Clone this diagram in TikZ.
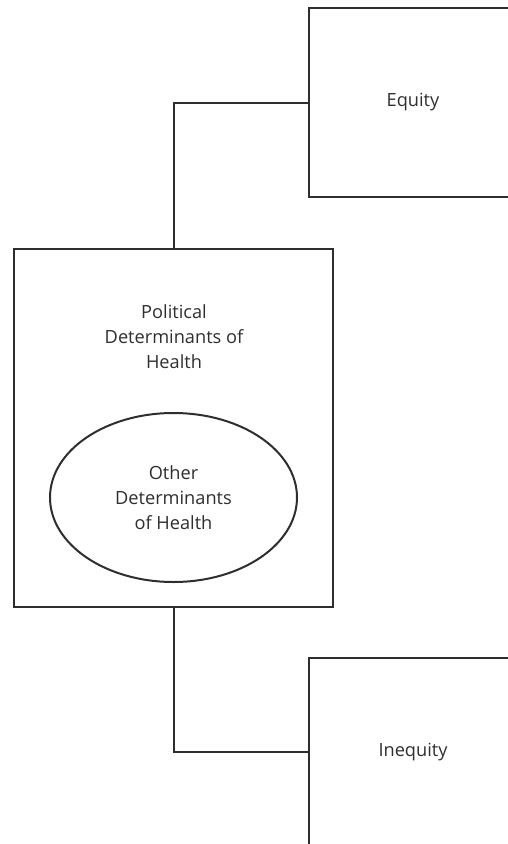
\documentclass[tikz,border=0pt]{standalone}
\usepackage{fontspec}
\setmainfont{Open Sans}
\usetikzlibrary{shapes.geometric}
\definecolor{ink}{HTML}{2E2E2E}
\tikzset{
  box/.style={draw=ink, line width=2pt, rectangle, inner sep=0pt},
  oval/.style={draw=ink, line width=2pt, ellipse, inner sep=0pt,
    minimum width=247pt, minimum height=169pt},
  label/.style={text=ink, font=\fontsize{18.2}{25}\selectfont, align=center},
  link/.style={draw=ink, line width=2pt},
}
\begin{document}
\begin{tikzpicture}[x=1pt, y=-1pt]
  \useasboundingbox (0,0) rectangle (508,844);
  \clip (0,0) rectangle (508,844);
  % outcome boxes on the right
  \node[box, minimum width=208pt, minimum height=189pt] (eq) at (413,102.5) {};
  \node[label] at (eq.center) {Equity};
  \node[box, minimum width=208pt, minimum height=189pt] (ineq) at (413,752) {};
  \node[label] at (ineq.center) {Inequity};
  % determinants
  \node[box, minimum width=319pt, minimum height=358pt] (pol) at (173.5,428) {};
  \node[label] (poltext) at (174,337) {Political\\Determinants of\\Health};
  \node[oval] (oth) at (173.5,497.5) {};
  \node[label] at (oth.center) {Other\\Determinants\\of Health};
  % connectors
  \draw[link] (pol.north) |- (eq.west);
  \draw[link] (pol.south) |- (ineq.west);
\end{tikzpicture}
\end{document}
